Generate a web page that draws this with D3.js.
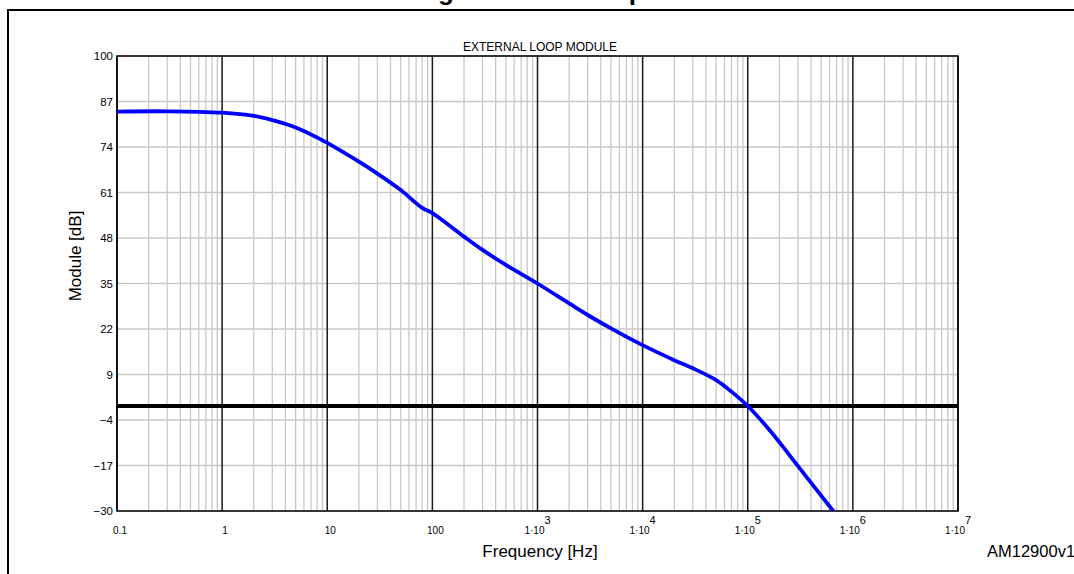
<!DOCTYPE html>
<html>
<head>
<meta charset="utf-8">
<script src="https://cdn.jsdelivr.net/npm/d3@7"></script>
<style>
  html, body { margin: 0; padding: 0; background: #fff; }
  svg { display: block; font-family: Arial, "Liberation Sans", sans-serif; }
</style>
</head>
<body>
<svg id="chart" width="1074" height="574"></svg>
<script>
// ---- data ----
const freq = [0.1, 0.3, 1, 2, 3, 5, 10, 20, 30, 50, 80, 100, 200, 300, 500, 1000, 2000, 3000, 5000, 1e4, 2e4, 3e4, 5e4, 7e4, 1e5, 1.7e5, 2.7e5, 6.5e5];
const moduleDb = [84.1, 84.2, 83.8, 82.9, 81.7, 79.6, 75.2, 69.8, 66.4, 61.7, 56.6, 55.1, 48.4, 44.6, 40.3, 35.0, 29.3, 26.0, 22.2, 17.4, 13.1, 10.8, 7.4, 4.1, 0, -7.7, -15.4, -30];
const yTicks = [100, 87, 74, 61, 48, 35, 22, 9, -4, -17, -30];
const xDecades = [0.1, 1, 10, 100, 1e3, 1e4, 1e5, 1e6, 1e7];
const xTickLabels = ["0.1", "1", "10", "100", "1·10|3", "1·10|4", "1·10|5", "1·10|6", "1·10|7"];
const chartTitle = "EXTERNAL LOOP MODULE";
const figTitle = "Figure 5. Module plot";
const xLabel = "Frequency [Hz]";
const yLabel = "Module [dB]";
const docId = "AM12900v1";

// ---- layout ----
const L = 117, R = 958, T = 56, B = 511;
const svg = d3.select("#chart");
const x = d3.scaleLog().domain([0.1, 1e7]).range([L, R]);
const y = d3.scaleLinear().domain([-30, 100]).range([B, T]);

// figure title (mostly cropped off the top)
svg.append("text").attr("x", 415).attr("y", -0.5)
  .attr("font-size", 26).attr("font-weight", "bold").text(figTitle);

// outer frame
svg.append("rect").attr("x", 8).attr("y", 10).attr("width", 1080).attr("height", 600)
  .attr("fill", "none").attr("stroke", "#000").attr("stroke-width", 2);

// minor vertical grid
const minor = [];
for (let d = 0; d < xDecades.length - 1; d++) {
  for (let k = 2; k <= 9; k++) minor.push(xDecades[d] * k);
}
svg.append("g").selectAll("line").data(minor).join("line")
  .attr("x1", d => x(d)).attr("x2", d => x(d)).attr("y1", T).attr("y2", B)
  .attr("stroke", "#c8c8c8").attr("stroke-width", 1.3);

// horizontal grid
svg.append("g").selectAll("line").data(yTicks).join("line")
  .attr("x1", L).attr("x2", R).attr("y1", d => y(d)).attr("y2", d => y(d))
  .attr("stroke", "#c8c8c8").attr("stroke-width", 1.3);

// major decade lines
svg.append("g").selectAll("line").data(xDecades).join("line")
  .attr("x1", d => x(d)).attr("x2", d => x(d)).attr("y1", T).attr("y2", B)
  .attr("stroke", "#1a1a1a").attr("stroke-width", 1.5);

// zero line
svg.append("line").attr("x1", L).attr("x2", R).attr("y1", y(0)).attr("y2", y(0))
  .attr("stroke", "#000").attr("stroke-width", 4);

// plot border
svg.append("rect").attr("x", L).attr("y", T).attr("width", R - L).attr("height", B - T)
  .attr("fill", "none").attr("stroke", "#000").attr("stroke-width", 1.5);

// curve
svg.append("clipPath").attr("id", "clip").append("rect")
  .attr("x", L).attr("y", T).attr("width", R - L).attr("height", B - T);
const line = d3.line().x((d, i) => x(freq[i])).y(d => y(d)).curve(d3.curveCatmullRom.alpha(0.5));
svg.append("path").attr("d", line(moduleDb)).attr("clip-path", "url(#clip)")
  .attr("fill", "none").attr("stroke", "#0000ff").attr("stroke-width", 3.8)
  .attr("stroke-linejoin", "round");

// y tick labels
svg.append("g").selectAll("text").data(yTicks).join("text")
  .attr("x", 113).attr("y", d => y(d)).attr("dy", "0.36em")
  .attr("text-anchor", "end").attr("font-size", 11.5)
  .text(d => d < 0 ? "\u2212" + Math.abs(d) : String(d));

// x tick labels
const xl = svg.append("g");
xDecades.forEach((d, i) => {
  const parts = xTickLabels[i].split("|");
  const t = xl.append("text").attr("y", 534).attr("font-size", 10).attr("text-anchor", "middle");
  if (parts.length === 1) {
    t.attr("x", x(d) + 3).text(parts[0]);
  } else {
    t.attr("x", x(d));
    t.append("tspan").text(parts[0]);
    t.append("tspan").attr("dy", -10).attr("font-size", 11).text(parts[1]);
  }
});

// titles
svg.append("text").attr("x", 540).attr("y", 51).attr("text-anchor", "middle")
  .attr("font-size", 12).text(chartTitle);
svg.append("text").attr("x", 540).attr("y", 557).attr("text-anchor", "middle")
  .attr("font-size", 17).text(xLabel);
svg.append("text").attr("transform", "translate(81,256) rotate(-90)")
  .attr("text-anchor", "middle").attr("font-size", 17).text(yLabel);
svg.append("text").attr("x", 987).attr("y", 557).attr("font-size", 16.5).text(docId);
</script>
</body>
</html>
